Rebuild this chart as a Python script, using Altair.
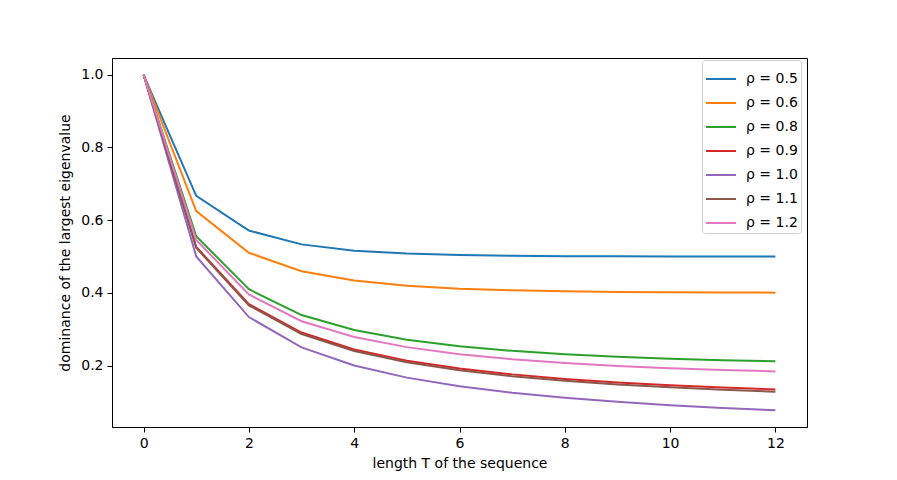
import altair as alt
import pandas as pd

T = list(range(13))
rho_labels = ["ρ = 0.5", "ρ = 0.6", "ρ = 0.8", "ρ = 0.9", "ρ = 1.0", "ρ = 1.1", "ρ = 1.2"]
colors = ["#1f77b4", "#ff7f0e", "#2ca02c", "#d62728", "#9467bd", "#8c564b", "#e377c2"]

rho_05 = [1.0, 0.6667, 0.5714, 0.5333, 0.5161, 0.5079, 0.5039, 0.5020, 0.5010, 0.5005, 0.5002, 0.5001, 0.5001]
rho_06 = [1.0, 0.6250, 0.5102, 0.4596, 0.4337, 0.4196, 0.4115, 0.4068, 0.4041, 0.4024, 0.4015, 0.4009, 0.4005]
rho_08 = [1.0, 0.5556, 0.4098, 0.3388, 0.2975, 0.2711, 0.2531, 0.2403, 0.2310, 0.2241, 0.2188, 0.2148, 0.2116]
rho_09 = [1.0, 0.5263, 0.3690, 0.2908, 0.2442, 0.2134, 0.1917, 0.1756, 0.1632, 0.1535, 0.1457, 0.1394, 0.1341]
rho_10 = [1.0, 0.5000, 0.3333, 0.2500, 0.2000, 0.1667, 0.1429, 0.1250, 0.1111, 0.1000, 0.0909, 0.0833, 0.0769]
rho_11 = [1.0, 0.5238, 0.3656, 0.2868, 0.2398, 0.2087, 0.1867, 0.1704, 0.1579, 0.1480, 0.1400, 0.1334, 0.1280]
rho_12 = [1.0, 0.5455, 0.3956, 0.3219, 0.2787, 0.2506, 0.2312, 0.2172, 0.2067, 0.1988, 0.1926, 0.1877, 0.1838]

series = [rho_05, rho_06, rho_08, rho_09, rho_10, rho_11, rho_12]

rows = []
for i, (lab, vals) in enumerate(zip(rho_labels, series)):
    for t, v in zip(T, vals):
        rows.append({"T": t, "value": v, "rho": lab, "order": i})
df = pd.DataFrame(rows)

FONT = "DejaVu Sans"

chart = alt.Chart(df).mark_line(strokeWidth=2).encode(
    x=alt.X("T:Q",
            scale=alt.Scale(domain=[-0.6, 12.6], nice=False, zero=False),
            axis=alt.Axis(title="length T of the sequence", values=[0, 2, 4, 6, 8, 10, 12],
                          format="d", grid=False, titlePadding=6)),
    y=alt.Y("value:Q",
            scale=alt.Scale(domain=[0.0308, 1.0462], nice=False, zero=False),
            axis=alt.Axis(title="dominance of the largest eigenvalue",
                          values=[0.2, 0.4, 0.6, 0.8, 1.0], format=".1f", grid=False,
                          titlePadding=8)),
    color=alt.Color("rho:N",
                    scale=alt.Scale(domain=rho_labels, range=colors),
                    legend=alt.Legend(title=None, orient="none", legendX=590, legendY=2,
                                      symbolType="stroke", symbolSize=900,
                                      symbolStrokeWidth=2, labelOffset=9,
                                      rowPadding=1,
                                      padding=3, cornerRadius=3,
                                      strokeColor="#d0d0d0", fillColor="white",
                                      labelFontSize=14, labelFont=FONT, labelColor="black")),
    order=alt.Order("order:Q"),
    detail="rho:N",
).properties(
    width=695,
    height=369,
    autosize=alt.AutoSizeParams(type="none"),
    padding={"left": 104, "top": 50, "right": 82, "bottom": 45},
).configure_view(
    stroke="black", strokeWidth=1
).configure_axis(
    domainColor="black", tickColor="black", labelColor="black", titleColor="black",
    labelFont=FONT, titleFont=FONT, labelFontSize=14, titleFontSize=14,
    titleFontWeight="normal", tickSize=5, labelPadding=4, domainWidth=1, tickWidth=1
)

chart.save("out.html", embed_options={"renderer": "svg", "actions": False})
